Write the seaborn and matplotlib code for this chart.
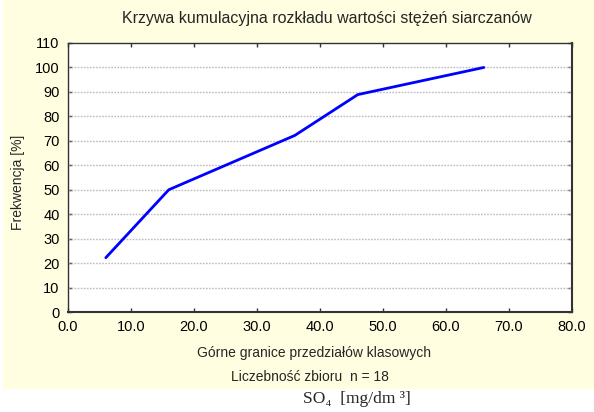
import matplotlib
matplotlib.use("Agg")
import matplotlib.pyplot as plt
import seaborn as sns
import pandas as pd

# Data
upper_bounds = [6.0, 16.0, 36.0, 46.0, 66.0]
cum_freq = [22.2, 50.0, 72.2, 88.9, 100.0]
x_ticks = [0, 10, 20, 30, 40, 50, 60, 70, 80]
y_ticks = [0, 10, 20, 30, 40, 50, 60, 70, 80, 90, 100, 110]
title = "Krzywa kumulacyjna rozkładu wartości stężeń siarczanów"
xlabel = "Górne granice przedziałów klasowych"
xlabel2 = "Liczebność zbioru  n = 18"
ylabel = "Frekwencja [%]"
unit_label = "SO₄  [mg/dm ³]"

sns.set_style("white")
plt.rcParams['font.family'] = ['Liberation Sans', 'DejaVu Sans']

W, H = 594, 412
fig = plt.figure(figsize=(W / 100, H / 100), dpi=100)
fig.patch.set_facecolor("white")

# cream panel (background axes)
bgax = fig.add_axes([3 / W, 1 - 389 / H, 1 - 3 / W, 389 / H], zorder=-10)
bgax.set_facecolor("#FFFEE0")
bgax.set_xticks([])
bgax.set_yticks([])
for s in bgax.spines.values():
    s.set_visible(False)

ax = fig.add_axes([68 / W, 1 - 312 / H, (572 - 68) / W, (312 - 43) / H], zorder=1)
ax.set_facecolor("white")

df = pd.DataFrame({"x": upper_bounds, "y": cum_freq})
sns.lineplot(data=df, x="x", y="y", ax=ax, color="#0000FF", linewidth=2.0, zorder=3)

ax.set_xlim(0, 80)
ax.set_ylim(0, 110)
ax.set_xticks(x_ticks)
ax.set_xticklabels([f"{v:.1f}" for v in x_ticks])
ax.set_yticks(y_ticks)
ax.set_yticklabels([str(v) for v in y_ticks])
ax.tick_params(direction="in", length=3, width=1, colors="#333333",
               labelcolor="black", labelsize=10.5, top=True, right=True,
               bottom=True, left=True, pad=6)
for s in ax.spines.values():
    s.set_visible(True)
    s.set_color("#333333")
    s.set_linewidth(1.0)
for s in ["right", "bottom"]:
    ax.spines[s].set_linewidth(1.5)

for yv in y_ticks[1:-1]:
    ax.axhline(yv, color="#BDBDBD", linestyle=(0, (1.2, 1.0)), linewidth=1.0, zorder=1)

ax.set_xlabel("")
ax.set_ylabel("")

fig.text(327 / W, 1 - 18 / H, title, ha="center", va="center", fontsize=11.5)
fig.text(314 / W, 1 - 353 / H, xlabel, ha="center", va="center", fontsize=10)
fig.text(310 / W, 1 - 377 / H, xlabel2, ha="center", va="center", fontsize=10)
fig.text(18 / W, 1 - 182 / H, ylabel, ha="center", va="center", rotation=90, fontsize=10)
fig.text(357 / W, 1 - 399 / H, unit_label, ha="center", va="center", fontsize=12.5,
         family=["Liberation Serif", "DejaVu Serif"])

fig.savefig("out.png", dpi=100, facecolor="white")
